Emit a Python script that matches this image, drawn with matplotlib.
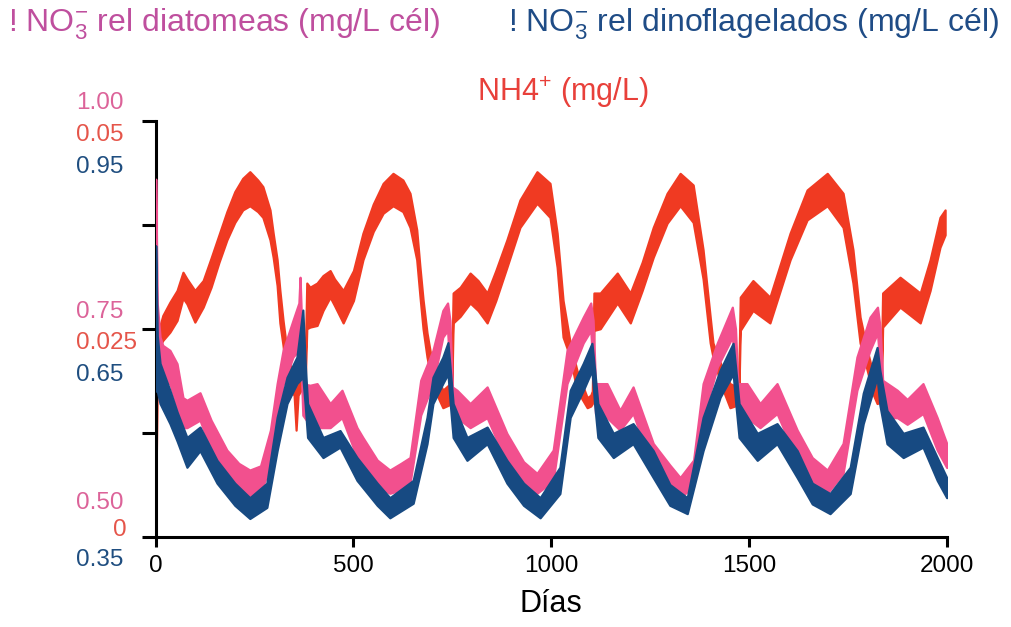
import matplotlib
matplotlib.use("Agg")
import matplotlib.pyplot as plt

plt.rcParams['font.family'] = ['Liberation Sans', 'DejaVu Sans']
plt.rcParams['mathtext.fontset'] = 'custom'
plt.rcParams['mathtext.rm'] = 'Liberation Sans'
plt.rcParams['mathtext.it'] = 'Liberation Sans:italic'
plt.rcParams['mathtext.bf'] = 'Liberation Sans:bold'

# ---------------- data ----------------
# NH4+ (mg/L): band lower / upper edges
nh4_day = [0, 4, 11, 18, 36, 54, 69, 79, 99, 120, 140, 160, 180, 200, 220, 238, 258, 271,
           289, 297, 307, 314, 322, 330, 340, 350, 355, 360, 372, 378, 382, 390, 408, 423,
           441, 452, 474, 500, 524, 550, 575, 600, 625, 643, 660, 668, 676, 686, 700, 726,
           740, 748, 752, 770, 795, 815, 838, 860, 888, 921, 964, 997, 1015, 1030, 1048,
           1065, 1091, 1100, 1104, 1108, 1124, 1167, 1200, 1230, 1258, 1293, 1326, 1359,
           1384, 1402, 1409, 1430, 1452, 1470, 1474, 1478, 1510, 1553, 1604, 1647, 1698,
           1738, 1763, 1781, 1799, 1815, 1824, 1834, 1838, 1882, 1933, 1958, 1983, 1996]
nh4_lo = [0.0043, 0.0180, 0.0230, 0.0236, 0.0246, 0.0260, 0.0287, 0.0280, 0.0258, 0.0276,
          0.0300, 0.0330, 0.0357, 0.0378, 0.0393, 0.0398, 0.0391, 0.0384, 0.0357, 0.0336,
          0.0302, 0.0257, 0.0230, 0.0194, 0.0176, 0.0170, 0.0128, 0.0170, 0.0180, 0.0185,
          0.0250, 0.0252, 0.0254, 0.0272, 0.0288, 0.0278, 0.0257, 0.0284, 0.0333, 0.0367,
          0.0389, 0.0398, 0.0391, 0.0372, 0.0333, 0.0290, 0.0250, 0.0216, 0.0182, 0.0155,
          0.0158, 0.0160, 0.0257, 0.0265, 0.0281, 0.0272, 0.0257, 0.0284, 0.0324, 0.0372,
          0.0401, 0.0384, 0.0324, 0.0240, 0.0216, 0.0176, 0.0155, 0.0157, 0.0160, 0.0248,
          0.0250, 0.0281, 0.0257, 0.0296, 0.0336, 0.0377, 0.0398, 0.0378, 0.0310, 0.0233,
          0.0216, 0.0182, 0.0155, 0.0158, 0.0160, 0.0248, 0.0272, 0.0257, 0.0333, 0.0381,
          0.0398, 0.0372, 0.0305, 0.0233, 0.0200, 0.0170, 0.0160, 0.0162, 0.0252, 0.0276,
          0.0257, 0.0296, 0.0348, 0.0363]
nh4_hi = [0.0104, 0.0240, 0.0254, 0.0266, 0.0282, 0.0296, 0.0318, 0.0310, 0.0296, 0.0308,
          0.0335, 0.0363, 0.0391, 0.0415, 0.0431, 0.0439, 0.0429, 0.0421, 0.0393, 0.0365,
          0.0333, 0.0296, 0.0260, 0.0230, 0.0206, 0.0194, 0.0188, 0.0194, 0.0205, 0.0210,
          0.0305, 0.0300, 0.0305, 0.0314, 0.0320, 0.0310, 0.0296, 0.0320, 0.0365, 0.0400,
          0.0425, 0.0437, 0.0429, 0.0413, 0.0369, 0.0325, 0.0285, 0.0245, 0.0206, 0.0176,
          0.0182, 0.0185, 0.0293, 0.0300, 0.0317, 0.0308, 0.0293, 0.0320, 0.0357, 0.0405,
          0.0439, 0.0425, 0.0365, 0.0284, 0.0233, 0.0200, 0.0167, 0.0170, 0.0175, 0.0293,
          0.0293, 0.0317, 0.0293, 0.0330, 0.0372, 0.0413, 0.0437, 0.0423, 0.0345, 0.0264,
          0.0233, 0.0206, 0.0184, 0.0180, 0.0182, 0.0288, 0.0308, 0.0288, 0.0365, 0.0417,
          0.0437, 0.0413, 0.0345, 0.0264, 0.0224, 0.0194, 0.0184, 0.0185, 0.0293, 0.0312,
          0.0293, 0.0333, 0.0384, 0.0393]

# NO3- rel diatomeas (mg/L cel)
dia_day = [0, 4, 11, 18, 36, 54, 69, 79, 112, 140, 180, 210, 238, 265, 290, 307, 322, 347,
           362, 365, 368, 372, 390, 408, 441, 471, 509, 524, 560, 592, 620, 643, 670, 701,
           726, 738, 744, 750, 762, 795, 838, 888, 930, 964, 1005, 1040, 1081, 1100, 1106,
           1112, 1141, 1174, 1207, 1258, 1300, 1326, 1360, 1384, 1420, 1458, 1466, 1472,
           1495, 1528, 1571, 1622, 1660, 1698, 1738, 1773, 1806, 1825, 1832, 1838, 1875,
           1900, 1940, 1976, 2000]
dia_lo = [0.740, 0.730, 0.688, 0.684, 0.684, 0.655, 0.631, 0.631, 0.640, 0.604, 0.567,
          0.556, 0.549, 0.552, 0.586, 0.640, 0.682, 0.716, 0.724, 0.724, 0.700, 0.646,
          0.634, 0.631, 0.631, 0.643, 0.595, 0.583, 0.560, 0.552, 0.556, 0.564, 0.646,
          0.684, 0.740, 0.748, 0.700, 0.643, 0.643, 0.631, 0.643, 0.588, 0.561, 0.552,
          0.567, 0.684, 0.733, 0.748, 0.700, 0.648, 0.643, 0.628, 0.648, 0.580, 0.556,
          0.547, 0.560, 0.643, 0.704, 0.740, 0.700, 0.643, 0.643, 0.631, 0.648, 0.592,
          0.565, 0.552, 0.576, 0.676, 0.724, 0.745, 0.700, 0.643, 0.643, 0.635, 0.648,
          0.604, 0.583]
dia_hi = [0.930, 0.780, 0.740, 0.730, 0.724, 0.708, 0.667, 0.664, 0.673, 0.640, 0.604,
          0.588, 0.580, 0.585, 0.628, 0.684, 0.724, 0.760, 0.781, 0.812, 0.770, 0.684,
          0.682, 0.684, 0.660, 0.676, 0.631, 0.619, 0.592, 0.580, 0.588, 0.595, 0.688,
          0.724, 0.772, 0.781, 0.760, 0.680, 0.676, 0.660, 0.680, 0.624, 0.590, 0.576,
          0.604, 0.724, 0.764, 0.781, 0.760, 0.684, 0.684, 0.652, 0.680, 0.612, 0.586,
          0.571, 0.592, 0.684, 0.733, 0.776, 0.750, 0.684, 0.684, 0.660, 0.684, 0.628,
          0.595, 0.580, 0.612, 0.716, 0.764, 0.776, 0.750, 0.688, 0.676, 0.665, 0.684,
          0.643, 0.612]

# NO3- rel dinoflagelados (mg/L cel)
din_day = [0, 4, 11, 36, 54, 79, 112, 155, 200, 238, 281, 307, 332, 357, 372, 378, 384,
           423, 466, 509, 560, 592, 651, 686, 701, 726, 739, 745, 752, 787, 838, 888, 930,
           972, 1022, 1048, 1081, 1103, 1110, 1118, 1157, 1207, 1258, 1300, 1344, 1384,
           1427, 1460, 1467, 1475, 1521, 1571, 1622, 1660, 1705, 1756, 1789, 1824, 1831,
           1849, 1890, 1940, 1976, 2000]
din_lo = [0.560, 0.560, 0.542, 0.513, 0.488, 0.450, 0.474, 0.427, 0.395, 0.376, 0.392,
          0.474, 0.542, 0.571, 0.580, 0.540, 0.493, 0.464, 0.479, 0.431, 0.395, 0.377,
          0.398, 0.484, 0.542, 0.571, 0.585, 0.540, 0.493, 0.460, 0.484, 0.427, 0.395,
          0.377, 0.412, 0.522, 0.561, 0.590, 0.540, 0.493, 0.464, 0.484, 0.435, 0.395,
          0.383, 0.474, 0.551, 0.585, 0.540, 0.493, 0.460, 0.484, 0.435, 0.397, 0.383,
          0.412, 0.513, 0.580, 0.540, 0.484, 0.464, 0.479, 0.431, 0.406]
din_hi = [0.770, 0.640, 0.600, 0.561, 0.530, 0.493, 0.508, 0.460, 0.427, 0.406, 0.427,
          0.522, 0.580, 0.609, 0.677, 0.600, 0.542, 0.493, 0.503, 0.464, 0.427, 0.406,
          0.431, 0.522, 0.580, 0.609, 0.630, 0.590, 0.542, 0.493, 0.508, 0.460, 0.427,
          0.406, 0.450, 0.561, 0.600, 0.629, 0.590, 0.542, 0.499, 0.513, 0.474, 0.425,
          0.406, 0.522, 0.590, 0.629, 0.590, 0.542, 0.499, 0.513, 0.474, 0.427, 0.412,
          0.450, 0.557, 0.623, 0.590, 0.532, 0.499, 0.508, 0.464, 0.435]

x_ticks = [0, 500, 1000, 1500, 2000]
nh4_ticks = [0, 0.0125, 0.025, 0.0375, 0.05]
dia_labels = ['1.00', '0.75', '0.50']
nh4_labels = ['0.05', '0.025', '0']
din_labels = ['0.95', '0.65', '0.35']

# ---------------- colours ----------------
C_RED = '#f03a22'
C_PINK = '#f2508e'
C_BLUE = '#174a82'
T_PINK = '#bf4f9e'
T_BLUE = '#1f4c86'
T_RED = '#e8403a'
L_PINK = '#dc6399'
L_RED = '#e5554a'
L_BLUE = '#1f4e80'

W, H = 1011, 627
fig = plt.figure(figsize=(W / 100, H / 100), dpi=100)
x0, x1, y0, y1 = 155.7, 946.7, 121.0, 536.5
ax = fig.add_axes([x0 / W, 1 - y1 / H, (x1 - x0) / W, (y1 - y0) / H])
ax2 = ax.twinx()
ax3 = ax.twinx()

band_kw = dict(lw=1.6, joinstyle='round', zorder=2)
ax.fill_between(nh4_day, nh4_lo, nh4_hi, color=C_RED, **band_kw)
ax2.fill_between(dia_day, dia_lo, dia_hi, color=C_PINK, **band_kw)
ax3.fill_between(din_day, din_lo, din_hi, color=C_BLUE, **band_kw)

ax.set_xlim(0, 2000)
ax.set_ylim(0, 0.05)
ax2.set_ylim(0.5, 1.0)
ax3.set_ylim(0.35, 0.95)
for a in (ax2, ax3):
    a.set_axis_off()

for s in ('top', 'right'):
    ax.spines[s].set_visible(False)
for s in ('left', 'bottom'):
    ax.spines[s].set_linewidth(2.2)
    ax.spines[s].set_color('black')

ax.set_xticks(x_ticks)
ax.set_xticklabels([str(t) for t in x_ticks])
ax.set_yticks(nh4_ticks)
ax.set_yticklabels([])
ax.tick_params(axis='x', direction='out', length=7, width=2.2, pad=6,
               labelsize=17.5, colors='black')
ax.tick_params(axis='y', direction='out', length=10, width=2.2, pad=2)
ax.set_xlabel('Días', fontsize=22, labelpad=9)

# stacked y labels for the three scales
def ftext(px, py, s, color, ha='left'):
    fig.text(px / W, 1 - py / H, s, color=color, ha=ha, va='center', fontsize=17.5)

ftext(76, 103, dia_labels[0], L_PINK)
ftext(76, 135, nh4_labels[0], L_RED)
ftext(76, 167, din_labels[0], L_BLUE)
ftext(76, 312, dia_labels[1], L_PINK)
ftext(76, 343, nh4_labels[1], L_RED)
ftext(76, 375, din_labels[1], L_BLUE)
ftext(76, 503, dia_labels[2], L_PINK)
ftext(127, 530, nh4_labels[2], L_RED, ha='right')
ftext(76, 560, din_labels[2], L_BLUE)

# series titles
fig.text(8 / W, 1 - 24 / H, r'! NO$_3^{-}$ rel diatomeas (mg/L cél)', color=T_PINK,
         fontsize=23, ha='left', va='center')
fig.text(508 / W, 1 - 24 / H, r'! NO$_3^{-}$ rel dinoflagelados (mg/L cél)', color=T_BLUE,
         fontsize=23, ha='left', va='center')
fig.text(477 / W, 1 - 92 / H, r'NH4$^{+}$ (mg/L)', color=T_RED,
         fontsize=22, ha='left', va='center')

fig.savefig('out.png', dpi=100, facecolor='white')
